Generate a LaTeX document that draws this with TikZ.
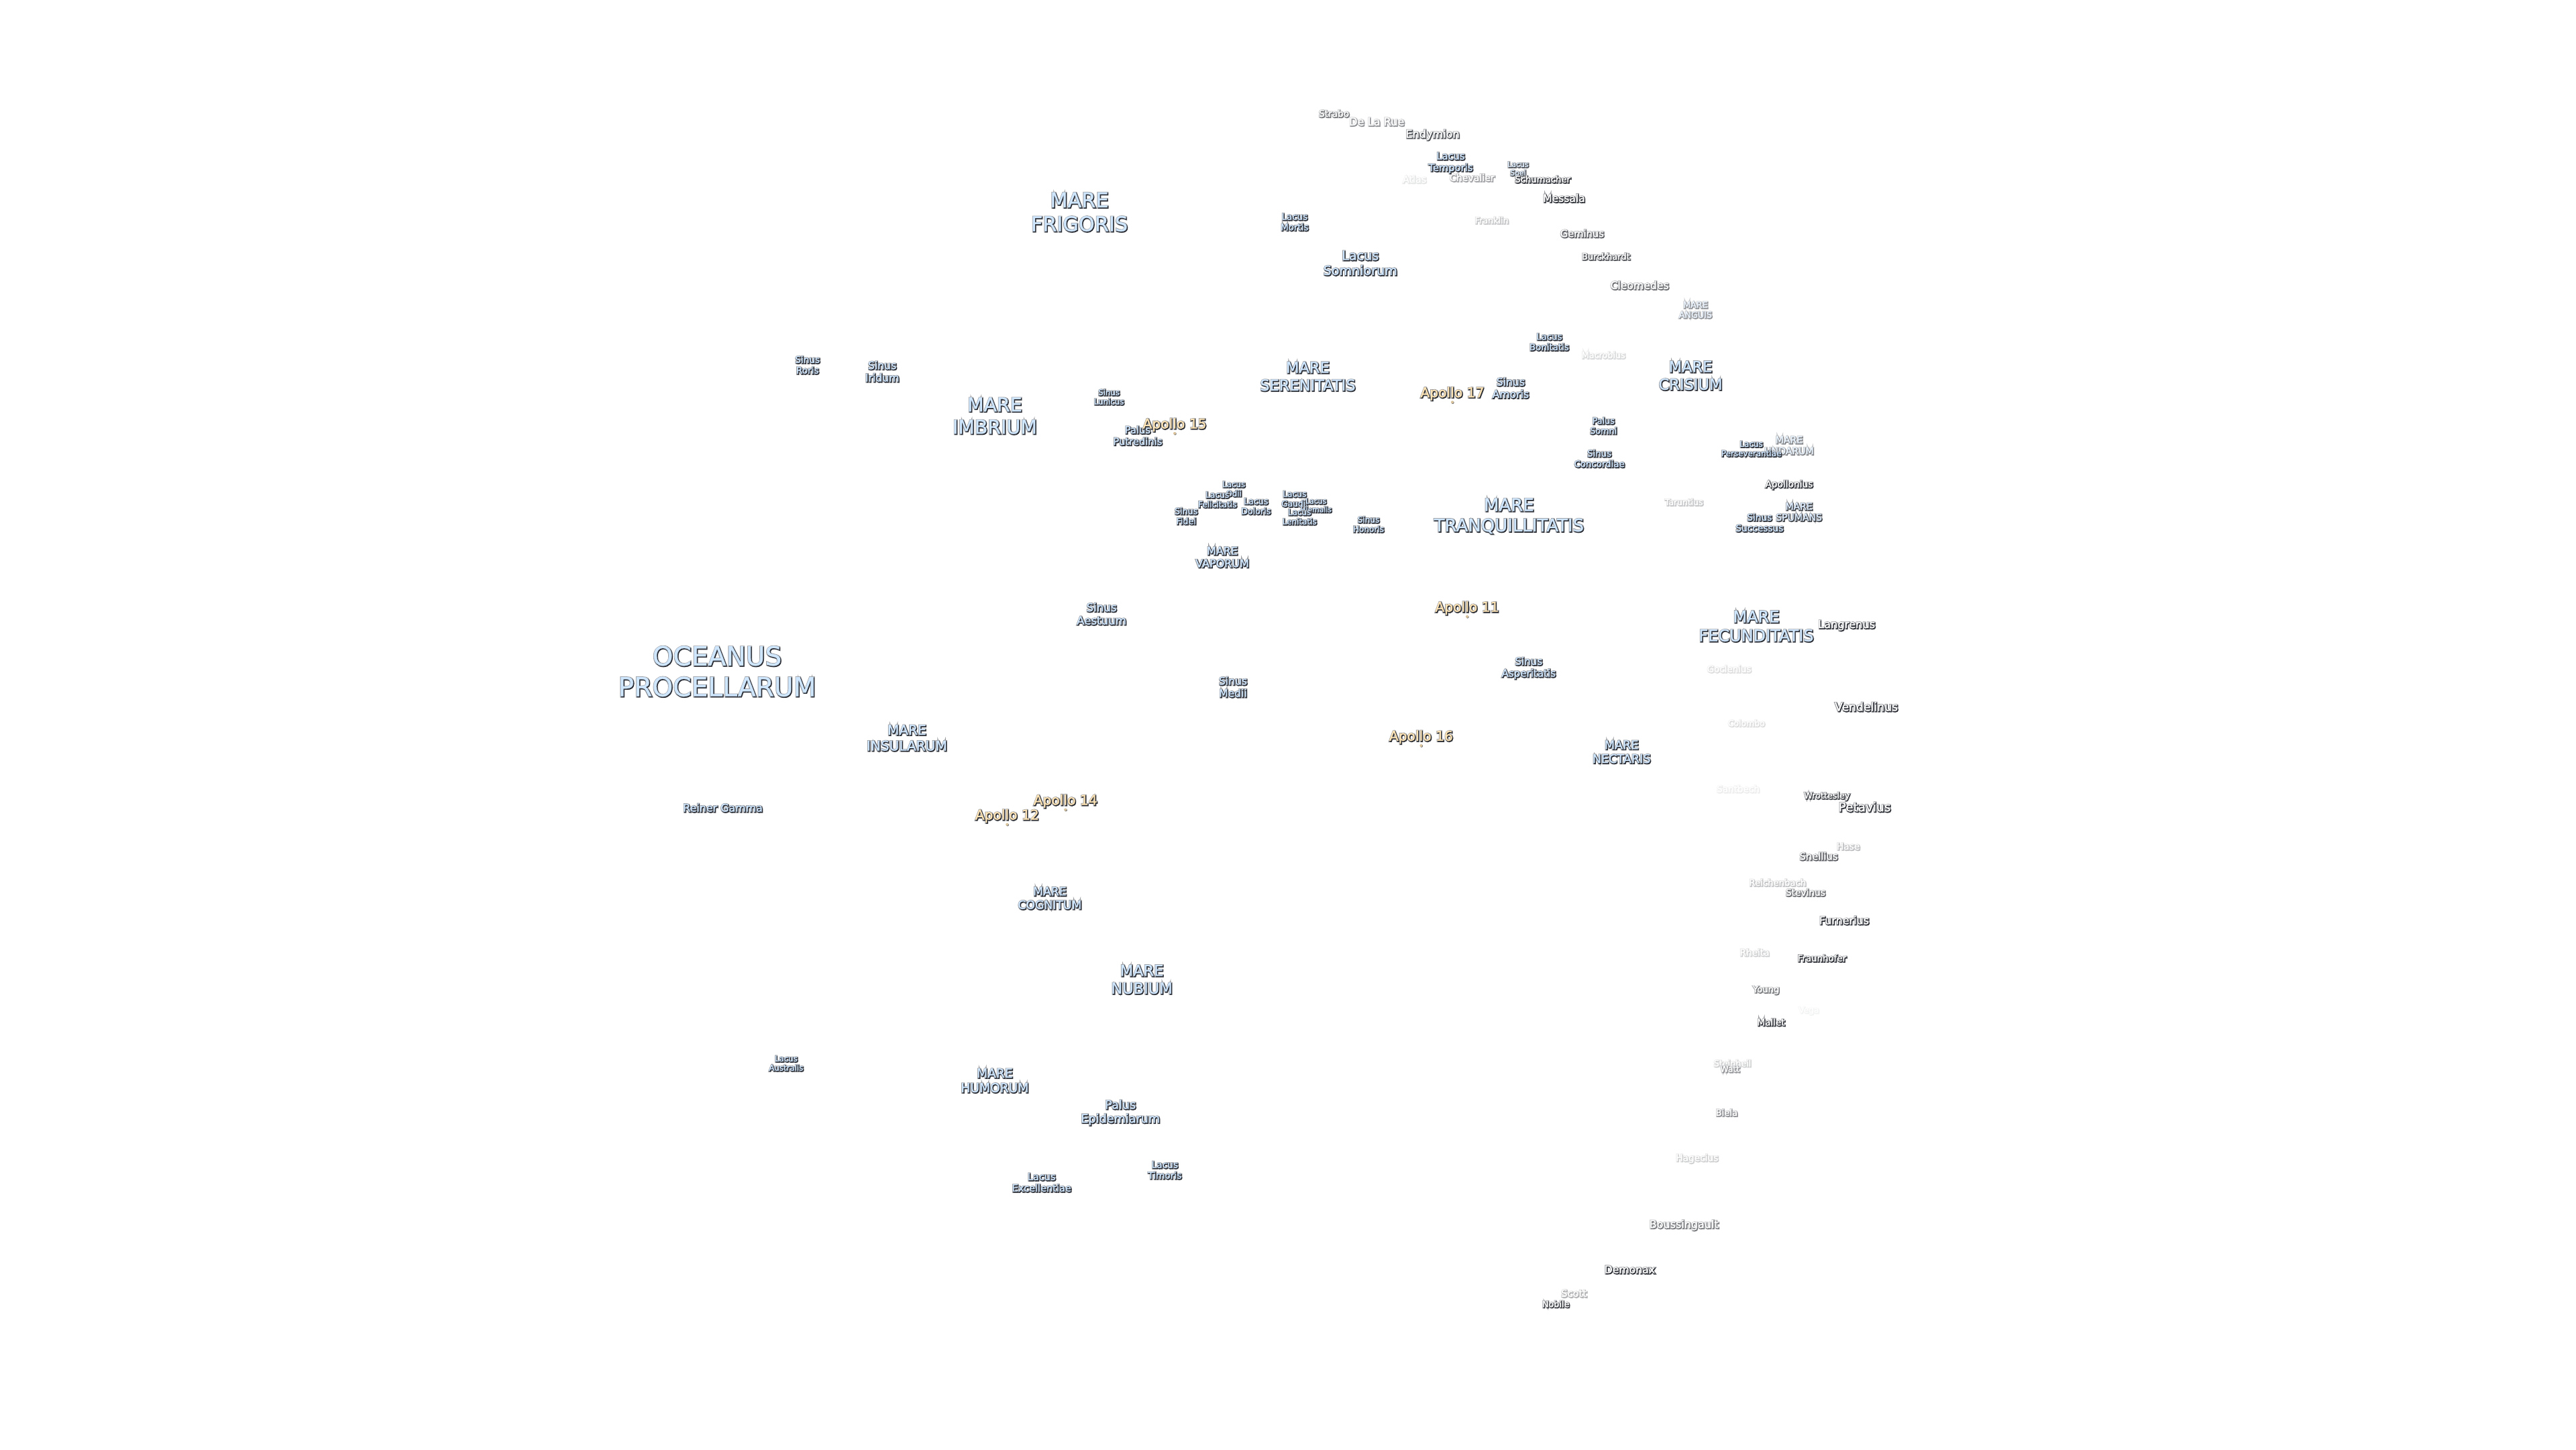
\documentclass[tikz,border=0pt]{standalone}
\usepackage{fontspec}
\setmainfont{DejaVu Sans}
\definecolor{mareC}{HTML}{CFE6FF}
\definecolor{craterC}{HTML}{FFFFFF}
\definecolor{apolloC}{HTML}{FFE4B5}
\definecolor{coreC}{HTML}{2A2D33}
\definecolor{haloC}{HTML}{9A9CA0}
\newcounter{labn}
\tikzset{lab/.style={inner sep=0pt,outer sep=0pt,align=center,anchor=center},
 landing/.style={circle,inner sep=0pt,minimum size=0.04cm,fill=#1}}
\newcommand{\lab}[6]{%
 \stepcounter{labn}%
 \pgfmathsetmacro\fs{#3*0.28453*0.98}\pgfmathsetmacro\ls{#3*0.28453*0.98*1.17}%
 \pgfmathsetmacro\hk{int(300/#3*10)/10}\pgfmathsetmacro\ck{int(120/#3*10)/10}\pgfmathsetmacro\fk{int(25/#3*10)/10}%
 \pgfmathtruncatemacro\opb{min(100,#5*1.3)}%
 \colorlet{fc}{#4!#5!white}\colorlet{cc}{coreC!\opb!white}\colorlet{hc}{haloC!\opb!white}%
 \node[lab,text=hc,font={\fontspec{DejaVu Sans}[FakeBold=\hk]\fontsize{\fs}{\ls}\selectfont}] (h\thelabn) at ([shift={(0.005cm,-0.006cm)}]#1,#2) {#6};
 \node[lab,text=cc,font={\fontspec{DejaVu Sans}[FakeBold=\ck]\fontsize{\fs}{\ls}\selectfont}] (s\thelabn) at ([shift={(0.01cm,-0.012cm)}]#1,#2) {#6};
 \node[lab,text=fc,font={\fontspec{DejaVu Sans}[FakeBold=\fk]\fontsize{\fs}{\ls}\selectfont}] (n\thelabn) at (#1,#2) {#6};
}
\newcommand{\apollo}[3]{%
 \lab{#1}{#2}{20.7}{apolloC}{100}{Apollo #3}%
 \node[landing=coreC!70!white] (d#3) at ([shift={(0.007cm,-0.007cm)}]#1,#2+5.2) {};
 \node[landing=apolloC!85!black] (p#3) at (#1,#2+5.2) {};
}
\begin{document}
\begin{tikzpicture}[x=0.02449cm,y=-0.02449cm]
\useasboundingbox (0,0) rectangle (1568,882);
\fill[white] (0,0) rectangle (1568,882);
% seas
\lab{436.5}{408.5}{40}{mareC}{100}{OCEANUS\\PROCELLARUM}
\lab{657}{129}{31}{mareC}{100}{MARE\\FRIGORIS}
\lab{605.5}{253}{29}{mareC}{100}{MARE\\IMBRIUM}
\lab{796}{229}{23}{mareC}{100}{MARE\\SERENITATIS}
\lab{1029}{228.5}{23}{mareC}{100}{MARE\\CRISIUM}
\lab{918.5}{314}{26.5}{mareC}{100}{MARE\\TRANQUILLITATIS}
\lab{1069}{381}{24.5}{mareC}{100}{MARE\\FECUNDITATIS}
\lab{744}{339}{16.3}{mareC}{100}{MARE\\VAPORUM}
\lab{552}{449}{20.5}{mareC}{100}{MARE\\INSULARUM}
\lab{987}{457.5}{18}{mareC}{100}{MARE\\NECTARIS}
\lab{639}{546.5}{17.6}{mareC}{100}{MARE\\COGNITUM}
\lab{695}{596}{23}{mareC}{100}{MARE\\NUBIUM}
\lab{605.5}{657.5}{19}{mareC}{100}{MARE\\HUMORUM}
\lab{1032}{188.5}{13}{mareC}{40}{MARE\\ANGUIS}
\lab{1089}{271}{14.4}{mareC}{45}{MARE\\UNDARUM}
\lab{1095}{311.5}{14.3}{mareC}{70}{MARE\\SPUMANS}
% lakes, bays, marshes
\lab{828}{160}{19.5}{mareC}{100}{Lacus\\Somniorum}
\lab{883}{99}{15}{mareC}{100}{Lacus\\Temporis}
\lab{924}{103}{11}{mareC}{65}{Lacus\\Spei}
\lab{788}{135}{13.7}{mareC}{100}{Lacus\\Mortis}
\lab{943}{208}{13.6}{mareC}{100}{Lacus\\Bonitatis}
\lab{919.5}{236}{16}{mareC}{100}{Sinus\\Amoris}
\lab{976}{259}{13}{mareC}{100}{Palus\\Somni}
\lab{973.5}{279}{13.6}{mareC}{100}{Sinus\\Concordiae}
\lab{1066}{273}{12.2}{mareC}{100}{Lacus\\Perseverantiae}
\lab{1071}{318}{14}{mareC}{100}{Sinus\\Successus}
\lab{491.5}{222}{13.9}{mareC}{100}{Sinus\\Roris}
\lab{537}{226}{16}{mareC}{100}{Sinus\\Iridum}
\lab{675}{241.5}{12}{mareC}{100}{Sinus\\Lunicus}
\lab{692.5}{265}{15}{mareC}{100}{Palus\\Putredinis}
\lab{751}{297.5}{12}{mareC}{100}{Lacus\\Odii}
\lab{741}{304}{12.5}{mareC}{100}{Lacus\\Felicitatis}
\lab{764.5}{308}{12.9}{mareC}{100}{Lacus\\Doloris}
\lab{722}{314}{13}{mareC}{100}{Sinus\\Fidei}
\lab{788}{303.5}{12.5}{mareC}{100}{Lacus\\Gaudii}
\lab{801}{307.5}{11}{mareC}{100}{Lacus\\Hiemalis}
\lab{791}{314.5}{12.2}{mareC}{100}{Lacus\\Lenitatis}
\lab{833}{319}{12.3}{mareC}{100}{Sinus\\Honoris}
\lab{670.5}{373.5}{17}{mareC}{100}{Sinus\\Aestuum}
\lab{750.5}{418}{15.9}{mareC}{100}{Sinus\\Medii}
\lab{930.5}{406.5}{15.4}{mareC}{100}{Sinus\\Asperitatis}
\lab{440}{491.5}{16.2}{mareC}{100}{Reiner Gamma}
\lab{682}{677}{18}{mareC}{100}{Palus\\Epidemiarum}
\lab{709}{712}{14}{mareC}{100}{Lacus\\Timoris}
\lab{634}{719.5}{14.8}{mareC}{100}{Lacus\\Excellentiae}
\lab{478.5}{647}{12}{mareC}{100}{Lacus\\Australis}
% craters
\lab{812}{69}{14}{craterC}{50}{Strabo}
\lab{838}{74}{16.5}{craterC}{40}{De La Rue}
\lab{872}{82}{16.4}{craterC}{65}{Endymion}
\lab{861}{109}{14.5}{craterC}{10}{Atlas}
\lab{896}{108}{14.4}{craterC}{35}{Chevalier}
\lab{939}{109}{13.5}{craterC}{100}{Schumacher}
\lab{952}{120.5}{15.9}{craterC}{100}{Messala}
\lab{908}{134}{13}{craterC}{22}{Franklin}
\lab{963}{142}{15}{craterC}{60}{Geminus}
\lab{977.5}{156}{13.3}{craterC}{65}{Burckhardt}
\lab{998}{173.5}{16}{craterC}{55}{Cleomedes}
\lab{976}{216}{13}{craterC}{15}{Macrobius}
\lab{1089}{295}{14}{craterC}{100}{Apollonius}
\lab{1025}{305.5}{12.7}{craterC}{22}{Taruntius}
\lab{1124}{380.5}{16.6}{craterC}{90}{Langrenus}
\lab{1136}{430}{17.6}{craterC}{90}{Vendelinus}
\lab{1052.5}{407}{13.7}{craterC}{13}{Goclenius}
\lab{1063}{440}{12.7}{craterC}{13}{Colombo}
\lab{1058}{480}{13.8}{craterC}{7}{Santbech}
\lab{1112}{484.5}{13}{craterC}{70}{Wrottesley}
\lab{1135}{491}{18.8}{craterC}{100}{Petavius}
\lab{1125}{515}{14}{craterC}{25}{Hase}
\lab{1107}{521}{15}{craterC}{60}{Snellius}
\lab{1082}{537}{13.5}{craterC}{22}{Reichenbach}
\lab{1099}{543}{14}{craterC}{55}{Stevinus}
\lab{1122.5}{560}{16.3}{craterC}{90}{Furnerius}
\lab{1068}{579.5}{13.9}{craterC}{18}{Rheita}
\lab{1109}{583}{13.6}{craterC}{100}{Fraunhofer}
\lab{1075}{602.5}{13.4}{craterC}{50}{Young}
\lab{1101}{615}{12.5}{craterC}{5}{Vega}
\lab{1078}{622}{13.8}{craterC}{75}{Mallet}
\lab{1054.5}{647}{13}{craterC}{18}{Steinheil}
\lab{1053}{650.5}{12.6}{craterC}{40}{Watt}
\lab{1051}{677}{13.4}{craterC}{42}{Biela}
\lab{1033}{705}{14}{craterC}{18}{Hagecius}
\lab{1025}{745.5}{16.3}{craterC}{50}{Boussingault}
\lab{992}{772.5}{16}{craterC}{90}{Demonax}
\lab{958}{787}{15}{craterC}{30}{Scott}
\lab{947}{793.5}{13}{craterC}{70}{Nobile}
% landing sites
\apollo{884}{239.5}{17}
\apollo{715}{258.5}{15}
\apollo{893}{370}{11}
\apollo{865}{448.5}{16}
\apollo{648.5}{487.5}{14}
\apollo{613}{496.5}{12}
\end{tikzpicture}
\end{document}
